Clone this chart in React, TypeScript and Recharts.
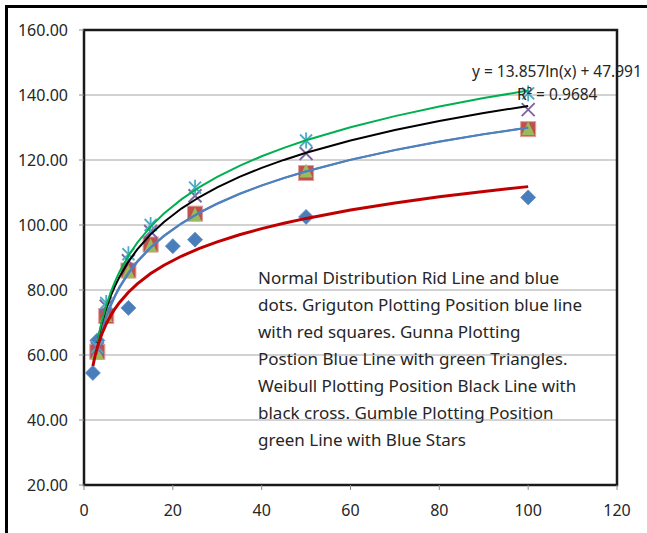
import {
  CartesianGrid,
  ReferenceArea,
  Scatter,
  ScatterChart,
  XAxis,
  YAxis,
} from 'recharts';

const FONT = '"Noto Sans", sans-serif';

// return periods (x)
const normalX = [2, 3, 10, 20, 25, 50, 100];
const plotX = [3, 5, 10, 15, 25, 50, 100];

// series values
const normalY = [54.5, 64.5, 74.5, 93.5, 95.5, 102.5, 108.5];
const grigutonY = [61, 72, 86, 94, 103.5, 116, 129.5];
const gunnaY = [60.5, 72, 85.5, 93.5, 103, 116.5, 129.5];
const weibullY = [62, 75, 89, 98, 109, 122, 135.5];
const gumbelY = [62.5, 76, 91, 100, 111.5, 126, 140.5];

const xTicks = [0, 20, 40, 60, 80, 100, 120];
const yTicks = [20, 40, 60, 80, 100, 120, 140, 160];

// x positions where the log trendlines are evaluated
const trendXs = [2, 2.5, 3, 3.5, 4, 5, 6, 7, 8, 10, 12, 15, 18, 22, 26, 30, 35, 40, 45, 50, 60, 70, 80, 90, 100];

const noteLines = [
  'Normal Distribution Rid Line and blue',
  'dots. Griguton Plotting Position blue line',
  'with red squares. Gunna Plotting',
  'Postion Blue Line with green Triangles.',
  'Weibull Plotting Position Black Line with',
  'black cross. Gumble Plotting Position',
  'green Line with Blue Stars',
];

const equation = 'y = 13.857ln(x) + 47.991';
const rSquared = 'R² = 0.9684';

type Pt = { x: number; y: number };

const toPoints = (xs: number[], ys: number[]): Pt[] => xs.map((x, i) => ({ x, y: ys[i] }));

// least squares fit of y = a ln(x) + b, like the spreadsheet's log trendline
const logTrend = (xs: number[], ys: number[]): Pt[] => {
  const lx = xs.map((x) => Math.log(x));
  const n = xs.length;
  const mx = lx.reduce((s, v) => s + v, 0) / n;
  const my = ys.reduce((s, v) => s + v, 0) / n;
  let sxy = 0;
  let sxx = 0;
  lx.forEach((v, i) => {
    sxy += (v - mx) * (ys[i] - my);
    sxx += (v - mx) * (v - mx);
  });
  const a = sxy / sxx;
  const b = my - a * mx;
  const lo = Math.min(...xs);
  const hi = Math.max(...xs);
  return trendXs.filter((x) => x >= lo && x <= hi).map((x) => ({ x, y: a * Math.log(x) + b }));
};

const Diamond = (p: any) => {
  const { cx, cy } = p;
  return (
    <polygon
      points={`${cx},${cy - 7.5} ${cx + 7.5},${cy} ${cx},${cy + 7.5} ${cx - 7.5},${cy}`}
      fill="#4A7EBB"
      stroke="#5B8CC8"
      strokeWidth={0.8}
    />
  );
};

const Square = (p: any) => {
  const { cx, cy } = p;
  return <rect x={cx - 7.5} y={cy - 7.5} width={15} height={15} fill="#C0504D" stroke="#E0A09E" strokeWidth={1} />;
};

const Triangle = (p: any) => {
  const { cx, cy } = p;
  return <polygon points={`${cx},${cy - 8} ${cx + 6.5},${cy + 6} ${cx - 6.5},${cy + 6}`} fill="#9BBB59" />;
};

const Cross = (p: any) => {
  const { cx, cy } = p;
  return (
    <g stroke="#8064A2" strokeWidth={1.8}>
      <line x1={cx - 6.5} y1={cy - 6.5} x2={cx + 6.5} y2={cy + 6.5} />
      <line x1={cx - 6.5} y1={cy + 6.5} x2={cx + 6.5} y2={cy - 6.5} />
    </g>
  );
};

const Star = (p: any) => {
  const { cx, cy } = p;
  return (
    <g stroke="#4BACC6" strokeWidth={1.8}>
      <line x1={cx - 6} y1={cy - 6} x2={cx + 6} y2={cy + 6} />
      <line x1={cx - 6} y1={cy + 6} x2={cx + 6} y2={cy - 6} />
      <line x1={cx} y1={cy - 8} x2={cx} y2={cy + 8} />
    </g>
  );
};

const NoMark = () => <g />;

const App = () => {
  const tick = { fontSize: 16, fill: '#262626', fontFamily: FONT };
  return (
    <div style={{ position: 'absolute', left: 0, top: 0, width: 647, height: 533, background: '#fff' }}>
      <div
        style={{
          position: 'absolute',
          left: 5,
          top: 5,
          width: 642,
          height: 528,
          borderLeft: '3px solid #000',
          borderTop: '3px solid #000',
        }}
      />
      <div style={{ position: 'absolute', left: 0, top: 0 }}>
        <ScatterChart width={647} height={533} margin={{ top: 30, right: 30, bottom: 0, left: 0 }} style={{ fontFamily: FONT }}>
          <CartesianGrid vertical={false} stroke="#A6A6A6" strokeWidth={1.2} />
          <XAxis
            type="number"
            dataKey="x"
            domain={[0, 120]}
            ticks={xTicks}
            height={48}
            tick={tick}
            tickSize={5}
            tickMargin={15}
            tickLine={{ stroke: '#8C8C8C' }}
            axisLine={false}
          />
          <YAxis
            type="number"
            dataKey="y"
            domain={[20, 160]}
            ticks={yTicks}
            width={84}
            tick={tick}
            tickSize={5}
            tickMargin={11}
            tickLine={{ stroke: '#8C8C8C' }}
            axisLine={false}
            tickFormatter={(v: number) => v.toFixed(2)}
          />
          <Scatter data={toPoints(normalX, normalY)} shape={Diamond} isAnimationActive={false} />
          <Scatter data={toPoints(plotX, grigutonY)} shape={Square} isAnimationActive={false} />
          <Scatter data={toPoints(plotX, gunnaY)} shape={Triangle} isAnimationActive={false} />
          <Scatter data={toPoints(plotX, weibullY)} shape={Cross} isAnimationActive={false} />
          <Scatter data={toPoints(plotX, gumbelY)} shape={Star} isAnimationActive={false} />
          <Scatter data={logTrend(plotX, grigutonY)} line={{ stroke: '#4F81BD', strokeWidth: 2 }} shape={NoMark} isAnimationActive={false} />
          <Scatter data={logTrend(plotX, gunnaY)} line={{ stroke: '#4F81BD', strokeWidth: 2 }} shape={NoMark} isAnimationActive={false} />
          <Scatter data={logTrend(plotX, weibullY)} line={{ stroke: '#000000', strokeWidth: 2 }} shape={NoMark} isAnimationActive={false} />
          <Scatter data={logTrend(plotX, gumbelY)} line={{ stroke: '#00B050', strokeWidth: 2 }} shape={NoMark} isAnimationActive={false} />
          <Scatter data={logTrend(normalX, normalY)} line={{ stroke: '#C00000', strokeWidth: 3 }} shape={NoMark} isAnimationActive={false} />
          <ReferenceArea x1={0} x2={120} y1={20} y2={160} fill="none" stroke="#1A1A1A" strokeWidth={2.5} ifOverflow="visible" />
        </ScatterChart>
      </div>
      <svg width={647} height={533} style={{ position: 'absolute', left: 0, top: 0, pointerEvents: 'none' }}>
        <g fontFamily={FONT} fill="#262626">
          <text x={472} y={77} fontSize={15.5}>{equation}</text>
          <text x={517} y={100} fontSize={15.5}>{rSquared}</text>
          {noteLines.map((line, i) => (
            <text key={i} x={258} y={284 + i * 27} fontSize={17}>
              {line}
            </text>
          ))}
        </g>
      </svg>
    </div>
  );
};

export default App;
